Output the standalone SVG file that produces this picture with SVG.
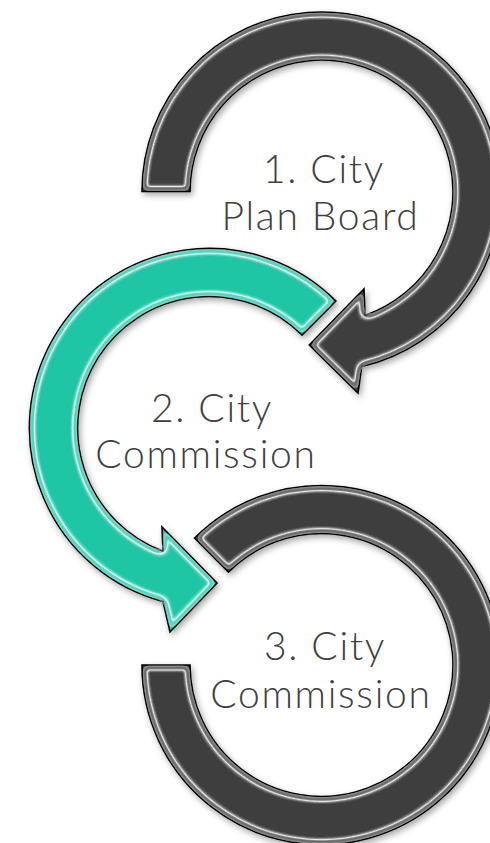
<svg xmlns="http://www.w3.org/2000/svg" width="490" height="843" viewBox="0 0 490 843">
  <defs>
    <style>
      .dark { fill: #3e3e3e; stroke: #000; stroke-width: 1.6; stroke-linejoin: miter; filter: url(#gloss); }
      .teal { fill: #1fc6a6; stroke: #000; stroke-width: 1.6; stroke-linejoin: miter; filter: url(#gloss); }
      .lbl { font-family: "Lato", "Open Sans", "Liberation Sans", sans-serif; font-weight: 300; font-size: 39px; letter-spacing: 1.7px; fill: #404040; text-anchor: middle; }
    </style>
    <filter id="gloss" x="-10%" y="-10%" width="120%" height="120%" color-interpolation-filters="sRGB">
      <feGaussianBlur in="SourceAlpha" stdDeviation="3.5" result="b"/>
      <feComponentTransfer in="b" result="ring">
        <feFuncA type="table" tableValues="0 0 0 0 0 0 0 0 0 0 0 0 0 0.4 0.45 0.4 0.3 0.25 0.35 1 0"/>
      </feComponentTransfer>
      <feFlood flood-color="#ffffff" flood-opacity="0.9" result="w"/>
      <feComposite in="w" in2="ring" operator="in" result="hl"/>
      <feComposite in="hl" in2="SourceAlpha" operator="in" result="hl2"/>
      <feGaussianBlur in="SourceAlpha" stdDeviation="3" result="sh"/>
      <feOffset in="sh" dx="2" dy="3" result="sho"/>
      <feFlood flood-color="#000" flood-opacity="0.35" result="k"/>
      <feComposite in="k" in2="sho" operator="in" result="shadow"/>
      <feMerge>
        <feMergeNode in="shadow"/>
        <feMergeNode in="SourceGraphic"/>
        <feMergeNode in="hl2"/>
      </feMerge>
    </filter>
  </defs>

  <g id="step1">
    <path class="dark" d="M142,191.5 A179.5,179.5 0 1 1 361.7,366.4 L358,393 L309.3,345 L364,289 L365,315.6 A131.5,131.5 0 1 0 190,191.5 Z"/>
    <text class="lbl" x="324" y="183">1. City</text>
    <text class="lbl" x="320.5" y="230">Plan Board</text>
  </g>

  <g id="step2">
    <path class="teal" d="M335.9,301.1 A179.5,179.5 0 1 0 163,601.5 L170,632 L217,583 L162,527 L163,551.2 A131.5,131.5 0 1 1 302,335 Z"/>
    <text class="lbl" x="212" y="422">2. City</text>
    <text class="lbl" x="206" y="468">Commission</text>
  </g>

  <g id="step3">
    <path class="dark" d="M194.6,538.1 A179.5,179.5 0 1 1 142,665 L190,665 A131.5,131.5 0 1 0 228.5,572 Z"/>
    <text class="lbl" x="325" y="660">3. City</text>
    <text class="lbl" x="321" y="708">Commission</text>
  </g>
</svg>
